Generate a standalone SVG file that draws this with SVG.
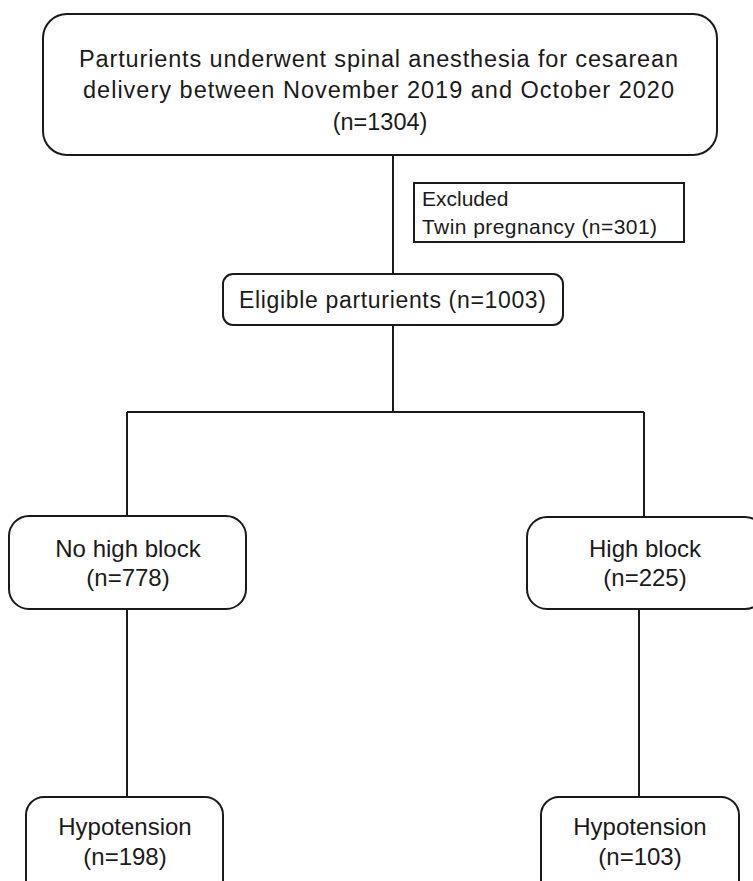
<svg xmlns="http://www.w3.org/2000/svg" width="753" height="881" viewBox="0 0 753 881">
<style>
.box{fill:#fff;stroke:#1a1a1a;stroke-width:2}
.ln{fill:none;stroke:#1a1a1a;stroke-width:2}
text{font-family:"Liberation Sans",Arial,sans-serif;fill:#1a1a1a}
.c{text-anchor:middle}
</style>
<rect width="753" height="881" fill="#fff"/>
<g id="connectors">
<path class="ln" d="M393 155V274"/>
<path class="ln" d="M393 325V412M127 412H644M127 412V516M644 412V517"/>
<path class="ln" d="M127 609V797M639 609V797"/>
</g>
<g id="n_top">
<rect class="box" x="43" y="14" width="674" height="141" rx="24"/>
<text x="79" y="67" font-size="23.5" textLength="599" lengthAdjust="spacing">Parturients underwent spinal anesthesia for cesarean</text>
<text x="83" y="98" font-size="23.5" textLength="591" lengthAdjust="spacing">delivery between November 2019 and October 2020</text>
<text class="c" x="380" y="130" font-size="23.5">(n=1304)</text>
</g>
<g id="n_excluded">
<rect class="box" x="414" y="183" width="270" height="59"/>
<text x="422" y="206" font-size="21">Excluded</text>
<text x="422" y="234" font-size="21" textLength="235" lengthAdjust="spacing">Twin pregnancy (n=301)</text>
</g>
<g id="n_eligible">
<rect class="box" x="223" y="274" width="340" height="51" rx="10"/>
<text x="239" y="308" font-size="23" textLength="307" lengthAdjust="spacing">Eligible parturients (n=1003)</text>
</g>
<g id="n_nohigh">
<rect class="box" x="9" y="516" width="237" height="93" rx="20"/>
<text class="c" x="128" y="557" font-size="24">No high block</text>
<text class="c" x="128" y="586" font-size="24">(n=778)</text>
</g>
<g id="n_high">
<rect class="box" x="527" y="517" width="238" height="92" rx="20"/>
<text class="c" x="645" y="557" font-size="24">High block</text>
<text class="c" x="645" y="586" font-size="24">(n=225)</text>
</g>
<g id="n_hypo1">
<rect class="box" x="26" y="797" width="197" height="110" rx="18"/>
<text class="c" x="125" y="835" font-size="24">Hypotension</text>
<text class="c" x="125" y="865" font-size="24">(n=198)</text>
</g>
<g id="n_hypo2">
<rect class="box" x="541" y="797" width="198" height="110" rx="18"/>
<text class="c" x="640" y="835" font-size="24">Hypotension</text>
<text class="c" x="640" y="865" font-size="24">(n=103)</text>
</g>
</svg>
